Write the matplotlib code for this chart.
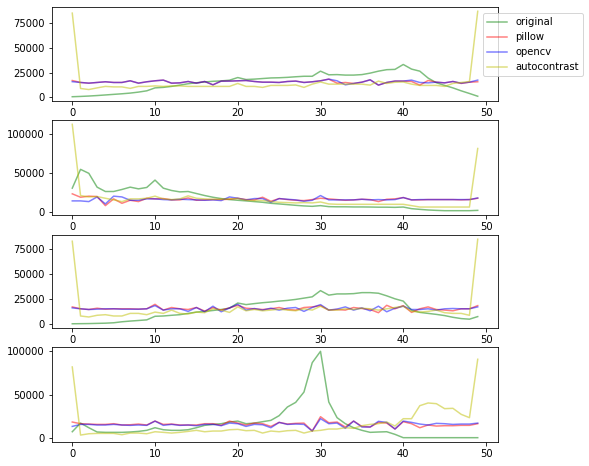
import numpy as np
import matplotlib
matplotlib.use("Agg")
import matplotlib.pyplot as plt

x = np.arange(50)
labels = ["original", "pillow", "opencv", "autocontrast"]
colors = ["g", "r", "b", "y"]

# panel 1
p1_original = [500, 800, 1200, 1700, 2300, 2900, 3500, 4200, 5200, 6500,
               9500, 10000, 11000, 12300, 13700, 14700, 15500, 16200, 16600, 17300,
               20000, 18000, 18400, 19000, 19600, 19800, 20200, 20800, 21300, 21300,
               26500, 22800, 23000, 22500, 22500, 23000, 24500, 26500, 28000, 28300,
               33300, 28600, 26500, 19500, 14700, 12000, 9500, 6500, 3800, 1000]
p1_pillow = [17000, 15000, 14300, 15000, 15700, 15000, 15000, 16700, 14300, 15700,
             16700, 17400, 14300, 14600, 16000, 14300, 16000, 12600, 16400, 16400,
             16700, 17000, 16000, 15300, 15300, 15000, 16000, 16400, 15000, 15700,
             16700, 18400, 14300, 15000, 14000, 15300, 17700, 12300, 15000, 16400,
             16400, 16000, 12300, 17000, 15300, 14600, 16000, 14000, 15300, 15700]
p1_opencv = [15800, 15000, 14300, 15000, 15700, 15000, 15000, 16700, 14300, 15700,
             16700, 17400, 14300, 14600, 16000, 14300, 16000, 12600, 16400, 16400,
             16700, 17000, 16000, 15300, 15300, 15000, 16000, 16400, 15000, 15700,
             16700, 18400, 16700, 12600, 14000, 15300, 17700, 12300, 15000, 16400,
             16400, 17400, 15000, 14600, 15300, 14600, 16000, 14300, 15300, 17400]
p1_autocontrast = [85500, 8900, 7800, 9500, 11000, 10500, 10500, 9000, 11000, 11000,
                   11500, 11000, 11500, 11500, 11000, 11000, 11000, 11000, 11000, 11000,
                   14000, 11000, 11000, 10000, 12000, 12000, 12000, 12500, 10000, 13300,
                   15500, 13300, 13300, 13300, 13300, 13300, 12300, 16400, 14000, 15200,
                   15500, 13300, 12000, 12000, 12000, 11000, 14000, 15000, 16000, 87400]

# panel 2
p2_original = [30300, 54500, 49400, 31600, 26000, 26000, 28600, 31600, 29400, 31200,
               40700, 30300, 27300, 25500, 26000, 23400, 20800, 18600, 16900, 15600,
               14700, 13900, 13000, 12100, 10800, 10000, 9100, 8200, 7400, 6900,
               7800, 6500, 6300, 6300, 6100, 6100, 6000, 5800, 5800, 5600,
               6000, 3900, 3000, 2200, 1700, 1300, 1300, 1300, 1300, 1700]
p2_pillow = [23000, 18600, 20000, 19500, 7800, 16500, 10800, 14700, 13000, 17300,
             16500, 16900, 15200, 15200, 17700, 14700, 15200, 15600, 15600, 16000,
             17300, 15600, 15200, 18600, 13400, 16900, 15600, 14700, 14300, 15600,
             17300, 16500, 15600, 14700, 15200, 16000, 15600, 13000, 16000, 16500,
             18200, 15200, 15200, 15600, 15600, 15600, 15600, 15200, 15600, 17300]
p2_opencv = [13900, 13900, 13000, 19000, 10000, 20000, 19000, 14700, 14700, 16500,
             16500, 15600, 15200, 16000, 15600, 15200, 14700, 15200, 14300, 19000,
             17300, 15200, 16900, 16900, 12100, 16900, 16000, 15200, 13400, 14700,
             20800, 15200, 15200, 15200, 15200, 16000, 15200, 15600, 15200, 15600,
             18200, 15200, 15600, 15600, 15600, 15600, 15600, 15600, 15600, 17700]
p2_autocontrast = [112500, 20800, 19000, 19500, 17300, 15200, 13000, 16500, 16500, 17300,
                   20000, 16500, 15600, 16500, 20400, 17300, 16500, 16000, 16000, 16500,
                   16900, 14700, 14300, 14300, 13000, 12100, 11700, 11300, 11700, 11300,
                   12500, 10000, 9500, 9500, 9500, 9500, 9500, 9500, 9500, 9500,
                   9500, 7800, 6000, 6000, 6000, 6000, 6000, 6000, 6000, 81400]

# panel 3
p3_original = [300, 400, 500, 700, 900, 1300, 2300, 3000, 3600, 4200,
               7800, 8100, 8800, 9400, 10700, 12000, 12700, 13600, 14600, 15900,
               21100, 19500, 20500, 21400, 22100, 23000, 23700, 24700, 26000, 27300,
               33500, 29000, 30200, 30200, 30500, 31500, 31500, 30900, 28300, 25300,
               23000, 14000, 11700, 10700, 9700, 8500, 6800, 5500, 4900, 7500]
p3_pillow = [17200, 15300, 14600, 15900, 14900, 15300, 15300, 15300, 15000, 15300,
             19800, 14000, 16600, 15300, 14600, 16600, 13000, 16600, 14000, 16200,
             18800, 15900, 15300, 14600, 15300, 16600, 14600, 14000, 16600, 17200,
             18500, 14000, 14600, 14000, 16600, 15600, 14600, 11400, 18800, 15300,
             18500, 11700, 15300, 17200, 14600, 14000, 13300, 15300, 15300, 18500]
p3_opencv = [16200, 15300, 14600, 14900, 15300, 15300, 14900, 14900, 14900, 15300,
             18500, 14000, 15300, 15300, 12700, 16600, 12300, 17900, 12300, 16200,
             19800, 14000, 15600, 14000, 15900, 14000, 15900, 16600, 12700, 16600,
             19500, 14000, 15000, 17200, 14000, 16200, 13300, 17900, 12300, 15900,
             17900, 14600, 14600, 15300, 14000, 15300, 15600, 15300, 15300, 17200]
p3_autocontrast = [83000, 8100, 7100, 8800, 9400, 8100, 8100, 10700, 10700, 9400,
                   12000, 10700, 14000, 10700, 10100, 12000, 11400, 15300, 14000, 11700,
                   17200, 13300, 14600, 13300, 14000, 14900, 14000, 13300, 15300, 14000,
                   17900, 14000, 14000, 15300, 14600, 15900, 15300, 14000, 15300, 16600,
                   17900, 12700, 12000, 12700, 14000, 11400, 10700, 10700, 8800, 85000]

# panel 4
p4_original = [7600, 17500, 12200, 7300, 6900, 6900, 6900, 7300, 8000, 9200,
               12200, 9900, 9200, 9200, 9900, 12200, 14900, 16000, 16800, 18700,
               19800, 16800, 17500, 19100, 20600, 26000, 35900, 41200, 53000, 86600,
               99600, 41600, 23700, 16800, 12200, 9200, 6900, 7300, 7600, 4600,
               800, 800, 800, 800, 800, 800, 800, 800, 800, 800]
p4_pillow = [18700, 16800, 16400, 16000, 16000, 16800, 15300, 15600, 16400, 15300,
             19800, 16000, 16400, 15300, 15300, 15300, 16800, 16800, 14900, 19800,
             17500, 15300, 17500, 16800, 13700, 18300, 16400, 17200, 17500, 8400,
             24800, 17900, 18700, 13000, 19800, 13700, 13000, 18300, 17500, 10700,
             19100, 16800, 12200, 15300, 14100, 14500, 14500, 14900, 14900, 16800]
p4_opencv = [13700, 16000, 16000, 15300, 15300, 16000, 15300, 14900, 15300, 14900,
             19800, 14900, 16000, 14900, 15300, 14500, 16000, 16000, 14500, 17500,
             16800, 13700, 16000, 15600, 12200, 18300, 16000, 16400, 16000, 8400,
             22500, 16800, 17500, 11500, 19800, 13000, 13000, 19500, 18300, 10700,
             19800, 18300, 16400, 15300, 17200, 16800, 16000, 16400, 16400, 17500]
p4_autocontrast = [81700, 3800, 5300, 5700, 5700, 5700, 4200, 6100, 6100, 5300,
                   7600, 6900, 6100, 6900, 8000, 9200, 7600, 8400, 8400, 9900,
                   10300, 8800, 9200, 6100, 8400, 7600, 8800, 9200, 6100, 8400,
                   9200, 10700, 10700, 12200, 11500, 14500, 16000, 16800, 18700, 14100,
                   22500, 22500, 37400, 40500, 39700, 34000, 34400, 27500, 23700, 90500]

panels = [
    [p1_original, p1_pillow, p1_opencv, p1_autocontrast],
    [p2_original, p2_pillow, p2_opencv, p2_autocontrast],
    [p3_original, p3_pillow, p3_opencv, p3_autocontrast],
    [p4_original, p4_pillow, p4_opencv, p4_autocontrast],
]

W, H = 589, 466
fig = plt.figure(figsize=(W / 72, H / 72), dpi=72)

# axes boxes in pixels: (top, bottom)
boxes = [(7, 101), (120, 215), (235, 328), (347, 442)]
left, right = 52, 498

for i, series in enumerate(panels):
    top, bottom = boxes[i]
    ax = fig.add_axes([left / W, 1 - bottom / H, (right - left) / W, (bottom - top) / H])
    for s, c, lab in zip(series, colors, labels):
        ax.plot(x, s, color=c, alpha=0.5, label=lab)
    ax.set_xticks([0, 10, 20, 30, 40, 50])
    if i == 0:
        ax.legend(loc="upper left", bbox_to_anchor=(483 / W, 1 - 13 / H),
                  bbox_transform=fig.transFigure, borderaxespad=0)

plt.savefig("out.png", dpi=72)
